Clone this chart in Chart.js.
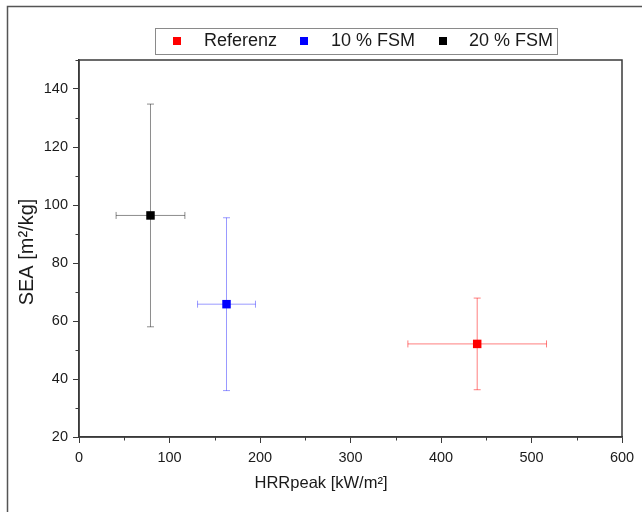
<!DOCTYPE html>
<html>
<head>
<meta charset="utf-8">
<script src="https://cdn.jsdelivr.net/npm/chart.js@4.4.1/dist/chart.umd.min.js"></script>
<style>
  html, body { margin: 0; padding: 0; background: #fff; }
  #wrap { width: 642px; height: 512px; position: relative; }
</style>
</head>
<body>
<div id="wrap"><canvas id="chart" width="642" height="512"></canvas></div>
<script>
// ---- data ----
const seriesNames = ['Referenz', '10 % FSM', '20 % FSM'];
const seriesColors = ['#ff0000', '#0000ff', '#000000'];
const errColors = ['rgba(255, 0, 0, 0.5)', 'rgba(0, 0, 255, 0.4)', 'rgba(0, 0, 0, 0.45)'];
const hrrPeak = [440, 163, 79];       // x
const hrrErr = [76.6, 32, 38];        // x error (+/-)
const seaValues = [52.1, 65.8, 96.4]; // y
const seaErr = [15.8, 29.8, 38.4];    // y error (+/-)

const xTitle = 'HRRpeak [kW/m²]';
const yTitle = 'SEA [m²/kg]';
const xTicks = [0, 100, 200, 300, 400, 500, 600];
const xMinor = [50, 150, 250, 350, 450, 550];
const yTicks = [20, 40, 60, 80, 100, 120, 140];
const yMinor = [30, 50, 70, 90, 110, 130, 150];

const axisColor = '#3a3a3a';
const textColor = '#1a1a1a';
const fontFamily = "'Liberation Sans', Arial, sans-serif";
const legendShift = 6;

// small squares used as legend symbols
function legendSquare(color) {
    const c = document.createElement('canvas');
    c.width = 8;
    c.height = 8;
    const g = c.getContext('2d');
    g.fillStyle = color;
    g.fillRect(0, 0, 8, 8);
    return c;
}

// ---- plugins ----
const errorBars = {
    id: 'errorBars',
    beforeDatasetsDraw(chart) {
        const { ctx, scales: { x, y } } = chart;
        const cap = 3.5;
        ctx.save();
        ctx.lineWidth = 1;
        chart.data.datasets.forEach((ds, i) => {
            ctx.strokeStyle = errColors[i];
            ds.data.forEach(p => {
                const px = x.getPixelForValue(p.x);
                const py = y.getPixelForValue(p.y);
                const xl = x.getPixelForValue(p.x - p.xErr);
                const xr = x.getPixelForValue(p.x + p.xErr);
                const yt = y.getPixelForValue(p.y + p.yErr);
                const yb = y.getPixelForValue(p.y - p.yErr);
                ctx.beginPath();
                ctx.moveTo(xl, py); ctx.lineTo(xr, py);
                ctx.moveTo(xl, py - cap); ctx.lineTo(xl, py + cap);
                ctx.moveTo(xr, py - cap); ctx.lineTo(xr, py + cap);
                ctx.moveTo(px, yt); ctx.lineTo(px, yb);
                ctx.moveTo(px - cap, yt); ctx.lineTo(px + cap, yt);
                ctx.moveTo(px - cap, yb); ctx.lineTo(px + cap, yb);
                ctx.stroke();
            });
        });
        ctx.restore();
    }
};

const frame = {
    id: 'frame',
    beforeDraw(chart) {
        // legend sits a little right of the plot centre in the original
        const lg = chart.legend;
        lg.left += legendShift;
        lg.right += legendShift;

        const ctx = chart.ctx;
        ctx.save();
        ctx.fillStyle = '#fff';
        ctx.fillRect(0, 0, chart.width, chart.height);
        ctx.strokeStyle = '#555';
        ctx.lineWidth = 1.5;
        ctx.strokeRect(7.5, 6.5, chart.width + 20, chart.height + 20);
        ctx.restore();
    },
    afterDraw(chart) {
        const { ctx, chartArea: a, scales: { x, y } } = chart;
        ctx.save();
        ctx.strokeStyle = axisColor;
        ctx.lineWidth = 1.5;
        ctx.strokeRect(a.left, a.top, a.right - a.left, a.bottom - a.top);

        // minor ticks
        ctx.lineWidth = 1;
        ctx.beginPath();
        xMinor.forEach(v => {
            const px = Math.round(x.getPixelForValue(v)) + 0.5;
            ctx.moveTo(px, a.bottom);
            ctx.lineTo(px, a.bottom + 3.5);
        });
        yMinor.forEach(v => {
            const py = Math.round(y.getPixelForValue(v)) + 0.5;
            ctx.moveTo(a.left - 3.5, py);
            ctx.lineTo(a.left, py);
        });
        ctx.stroke();

        // axis titles (x title is centred on the page, not the plot)
        ctx.fillStyle = textColor;
        ctx.textAlign = 'center';
        ctx.textBaseline = 'middle';
        ctx.font = '16.5px ' + fontFamily;
        ctx.fillText(xTitle, chart.width / 2, 483);
        ctx.save();
        ctx.translate(27, 252);
        ctx.rotate(-Math.PI / 2);
        ctx.font = '20px ' + fontFamily;
        ctx.fillText(yTitle, 0, 0);
        ctx.restore();

        // legend box
        const hb = chart.legend.legendHitBoxes;
        if (hb && hb.length) {
            const first = hb[0], last = hb[hb.length - 1];
            const cy = first.top + first.height / 2;
            const left = Math.round(first.left + legendShift - 4.5) + 0.5;
            const right = Math.round(last.left + legendShift + last.width + 4) + 0.5;
            ctx.strokeStyle = '#8a8a8a';
            ctx.strokeRect(left, Math.round(cy - 13) + 0.5, right - left, 26);
        }
        ctx.restore();
    }
};

// ---- chart ----
const datasets = seriesNames.map((name, i) => ({
    label: name,
    data: [{ x: hrrPeak[i], y: seaValues[i], xErr: hrrErr[i], yErr: seaErr[i] }],
    backgroundColor: seriesColors[i],
    borderColor: seriesColors[i],
    pointStyle: 'rect',
    pointRadius: 6,
    pointHoverRadius: 6,
    borderWidth: 0
}));

new Chart(document.getElementById('chart'), {
    type: 'scatter',
    data: { datasets },
    plugins: [errorBars, frame],
    options: {
        responsive: false,
        animation: false,
        events: [],
        layout: { padding: { top: 22, left: 0, right: 20, bottom: 0 } },
        plugins: {
            tooltip: { enabled: false },
            legend: {
                position: 'top',
                fullSize: false,
                align: 'center',
                labels: {
                    usePointStyle: true,
                    pointStyleWidth: 35,
                    padding: 10,
                    color: textColor,
                    font: { size: 18, family: fontFamily },
                    generateLabels(chart) {
                        return chart.data.datasets.map((ds, i) => ({
                            text: ds.label,
                            pointStyle: legendSquare(seriesColors[i]),
                            fillStyle: seriesColors[i],
                            strokeStyle: seriesColors[i],
                            lineWidth: 0,
                            fontColor: textColor,
                            datasetIndex: i
                        }));
                    }
                }
            }
        },
        scales: {
            x: {
                type: 'linear',
                min: 0,
                max: 600,
                afterBuildTicks: s => { s.ticks = xTicks.map(v => ({ value: v })); },
                afterFit: s => { s.height = 75; },
                grid: { drawOnChartArea: false, tickLength: 6, tickColor: axisColor, tickWidth: 1 },
                border: { display: true, color: axisColor, width: 1.5 },
                ticks: { color: textColor, padding: 6, maxRotation: 0, font: { size: 14.5, family: fontFamily } },
                title: { display: false }
            },
            y: {
                type: 'linear',
                min: 20,
                max: 150,
                afterBuildTicks: s => { s.ticks = yTicks.map(v => ({ value: v })); },
                afterFit: s => { s.width = 79; },
                grid: { drawOnChartArea: false, tickLength: 6, tickColor: axisColor, tickWidth: 1 },
                border: { display: true, color: axisColor, width: 1.5 },
                ticks: { color: textColor, padding: 5, font: { size: 14.5, family: fontFamily } },
                title: { display: false }
            }
        }
    }
});
</script>
</body>
</html>
